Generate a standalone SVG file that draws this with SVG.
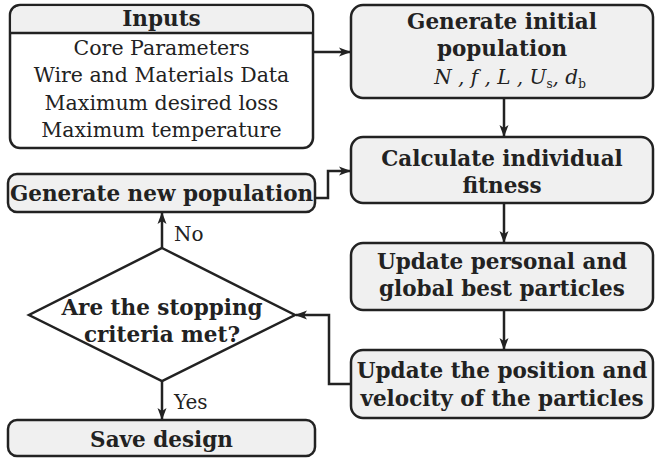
<svg xmlns="http://www.w3.org/2000/svg" width="655" height="461" viewBox="0 0 655 461">
<defs>
<style>
.box{fill:#f0f0f0;stroke:#222;stroke-width:2.5}
.wbox{fill:#fff;stroke:#222;stroke-width:2.5}
.ln{fill:none;stroke:#222;stroke-width:2.5}
.b{font-family:"DejaVu Serif","Liberation Serif",serif;font-weight:bold;font-size:21.5px;fill:#222;text-anchor:middle}
.r{font-family:"DejaVu Serif","Liberation Serif",serif;font-size:20.5px;fill:#222;text-anchor:middle}
.lbl{font-family:"DejaVu Serif","Liberation Serif",serif;font-size:20px;fill:#222}
.m{font-family:"DejaVu Serif","Liberation Serif",serif;font-style:italic;font-size:20px;fill:#222;text-anchor:middle}
.sub{font-size:12px;font-style:normal}
</style>
<marker id="ah" markerUnits="userSpaceOnUse" markerWidth="12" markerHeight="10" refX="11" refY="5" orient="auto">
<path d="M0,0.5 L12,5 L0,9.5 L3,5 Z" fill="#222"/>
</marker>
</defs>
<g id="connectors">
<path class="ln" d="M313,52 H350" marker-end="url(#ah)"/>
<path class="ln" d="M504,98 V136" marker-end="url(#ah)"/>
<path class="ln" d="M504,203 V242" marker-end="url(#ah)"/>
<path class="ln" d="M504,310 V349" marker-end="url(#ah)"/>
<path class="ln" d="M351,384 H329 V315 H296" marker-end="url(#ah)"/>
<path class="ln" d="M315,198 H328 V171 H350" marker-end="url(#ah)"/>
<path class="ln" d="M162,248 V213" marker-end="url(#ah)"/>
<path class="ln" d="M162,381 V419" marker-end="url(#ah)"/>
<text class="lbl" x="174" y="241">No</text>
<text class="lbl" x="174" y="409">Yes</text>
</g>
<g id="inputs">
<rect class="wbox" x="10" y="5" width="303" height="143" rx="10"/>
<path d="M11.25,33 V16 a9.75,9.75 0 0 1 9.75,-9.75 H302 a9.75,9.75 0 0 1 9.75,9.75 V33 Z" fill="#f0f0f0"/>
<line class="ln" x1="10" y1="33" x2="313" y2="33"/>
<text class="b" x="161.5" y="26">Inputs</text>
<text class="r" x="161.5" y="55">Core Parameters</text>
<text class="r" x="161.5" y="82">Wire and Materials Data</text>
<text class="r" x="161.5" y="110">Maximum desired loss</text>
<text class="r" x="161.5" y="137">Maximum temperature</text>
</g>
<g id="gen-initial">
<rect class="box" x="351" y="5" width="302" height="93" rx="12"/>
<text class="b" x="502" y="29">Generate initial</text>
<text class="b" x="502" y="56">population</text>
<text class="m" x="510" y="84">N , f , L , U<tspan class="sub" dy="4">s</tspan><tspan dy="-4">, d</tspan><tspan class="sub" dy="4">b</tspan></text>
</g>
<g id="calc-fitness">
<rect class="box" x="351" y="137" width="302" height="66" rx="12"/>
<text class="b" x="502" y="166">Calculate individual</text>
<text class="b" x="502" y="193">fitness</text>
</g>
<g id="update-best">
<rect class="box" x="351" y="243" width="302" height="67" rx="12"/>
<text class="b" x="502" y="269">Update personal and</text>
<text class="b" x="502" y="296">global best particles</text>
</g>
<g id="update-position">
<rect class="box" x="351" y="350" width="302" height="68" rx="12"/>
<text class="b" x="502" y="378">Update the position and</text>
<text class="b" x="502" y="406">velocity of the particles</text>
</g>
<g id="gen-new">
<rect class="box" x="8" y="174" width="307" height="38" rx="9"/>
<text class="b" x="161.5" y="201">Generate new population</text>
</g>
<g id="decision">
<polygon class="wbox" points="162,248 295,315 162,381 29,315"/>
<text class="b" x="162" y="315">Are the stopping</text>
<text class="b" x="162" y="342">criteria met?</text>
</g>
<g id="save">
<rect class="box" x="8" y="420" width="307" height="36" rx="9"/>
<text class="b" x="161.5" y="447">Save design</text>
</g>
</svg>
